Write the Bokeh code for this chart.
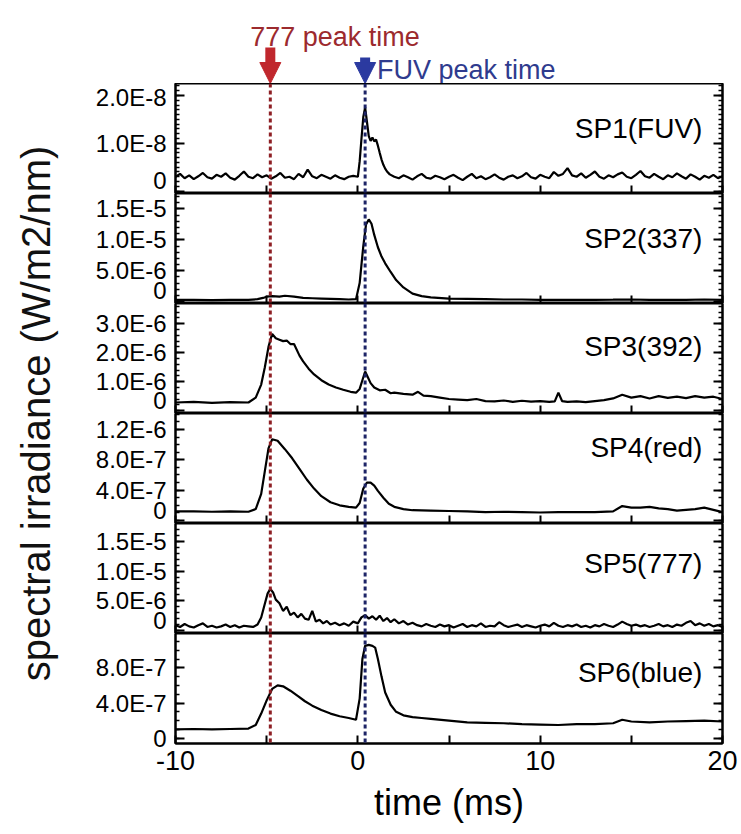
import numpy as np
from math import pi
from bokeh.plotting import figure
from bokeh.layouts import column, row
from bokeh.models import (Range1d, LinearAxis, SingleIntervalTicker, CustomJSTickFormatter,
                          Span, Label, Arrow, NormalHead)
from bokeh.embed import file_html
from bokeh.resources import INLINE

# ---------------- data ----------------
X_START, X_END = -10, 20
T777 = -4.8      # 777 peak time (ms)
TFUV = 0.4       # FUV peak time (ms)

# SP1 (FUV), units of 1e-8 W/m2/nm
sp1_t = np.concatenate([np.arange(-10, 0, 0.25),
                        [0.0, 0.1, 0.2, 0.3, 0.4, 0.5, 0.6, 0.7, 0.8, 0.9, 1.0, 1.1, 1.2, 1.3, 1.4, 1.5, 1.6, 1.75, 2.0],
                        np.arange(2.25, 20.01, 0.25)])
sp1_v = [0.30, 0.36, 0.27, 0.33, 0.25, 0.31, 0.38, 0.29, 0.26, 0.34,
         0.30, 0.37, 0.28, 0.24, 0.32, 0.41, 0.30, 0.27, 0.35, 0.29,
         0.33, 0.26, 0.31, 0.38, 0.28, 0.30, 0.25, 0.36, 0.29, 0.45,
         0.31, 0.27, 0.34, 0.30, 0.26, 0.33, 0.28, 0.25, 0.30, 0.32,
         0.30, 0.62, 1.10, 1.55, 1.75, 1.45, 1.15, 1.05, 1.12, 1.04, 1.08, 0.95, 0.80, 0.66, 0.55, 0.47, 0.41, 0.35, 0.30,
         0.27, 0.33, 0.29, 0.24, 0.31, 0.36, 0.28, 0.26, 0.32, 0.29, 0.25, 0.30,
         0.34, 0.28, 0.23, 0.30, 0.36, 0.27, 0.31, 0.25, 0.29, 0.35, 0.28, 0.24,
         0.30, 0.33, 0.27, 0.31, 0.38, 0.29, 0.26, 0.34, 0.30, 0.27, 0.40, 0.32,
         0.36, 0.48, 0.33, 0.30, 0.37, 0.28, 0.34, 0.41, 0.30, 0.26, 0.33, 0.29,
         0.35, 0.39, 0.30, 0.27, 0.34, 0.42, 0.31, 0.28, 0.36, 0.30, 0.25, 0.33,
         0.29, 0.37, 0.31, 0.26, 0.35, 0.30, 0.24, 0.32, 0.28, 0.34, 0.27, 0.31]

# SP2 (337), units of 1e-6
sp2_t = [-10, -9, -8, -7, -6, -5.5, -5.2, -5.0, -4.7, -4.3, -4.0, -3.5, -3.0, -2.5, -2.0, -1.5, -1.0, -0.5, -0.1,
         0.1, 0.3, 0.45, 0.6, 0.75, 0.9, 1.1, 1.3, 1.5, 1.8, 2.1, 2.5, 3.0, 3.5, 4, 5,
         6, 7, 8, 9, 10, 11, 12, 13, 14, 15, 16, 17, 18, 19, 20]
sp2_v = [0.3, 0.3, 0.25, 0.3, 0.3, 0.4, 0.6, 0.8, 0.9, 0.8, 0.95, 0.8, 0.6, 0.55, 0.5, 0.45, 0.4, 0.35, 0.4,
         3.0, 9.0, 12.5, 13.3, 12.6, 10.8, 8.8, 7.3, 6.2, 4.8, 3.5, 2.3, 1.3, 0.9, 0.7, 0.5,
         0.45, 0.4, 0.35, 0.35, 0.3, 0.3, 0.28, 0.3, 0.32, 0.35, 0.3, 0.28, 0.3, 0.35, 0.3]

# SP3 (392), units of 1e-6
sp3_t = [-10, -9, -8, -7, -6, -5.6, -5.3, -5.1, -4.9, -4.7, -4.5, -4.3, -4.1, -3.9, -3.7, -3.5, -3.2, -3.0, -2.7, -2.4,
         -2.0, -1.6, -1.2, -0.8, -0.4, -0.1, 0.1, 0.25, 0.4, 0.55, 0.7, 0.9, 1.2, 1.5, 1.8, 2.0, 2.5, 3.0, 3.3, 3.6,
         4.0, 4.5, 5.0, 5.5, 6, 6.5, 7, 7.5, 8, 8.5, 9, 9.5, 10, 10.5, 10.8, 11.0, 11.2, 11.5, 12, 12.5,
         13, 13.5, 14, 14.5, 15, 15.5, 16, 16.5, 17, 17.5, 18, 18.5, 19, 19.5, 20]
sp3_v = [0.28, 0.30, 0.27, 0.29, 0.28, 0.45, 0.9, 1.5, 2.2, 2.65, 2.5, 2.45, 2.4, 2.42, 2.3, 2.3, 1.9, 1.7, 1.45, 1.25,
         1.05, 0.9, 0.8, 0.72, 0.65, 0.62, 0.75, 1.05, 1.35, 1.15, 0.95, 0.8, 0.7, 0.72, 0.6, 0.62, 0.58, 0.55, 0.65, 0.52,
         0.5, 0.45, 0.4, 0.38, 0.36, 0.4, 0.33, 0.32, 0.35, 0.3, 0.34, 0.31, 0.33, 0.3, 0.32, 0.62, 0.33, 0.3, 0.32, 0.29,
         0.33, 0.36, 0.42, 0.55, 0.45, 0.5, 0.42, 0.5, 0.44, 0.48, 0.43, 0.5, 0.45, 0.48, 0.4]

# SP4 (red), units of 1e-7
sp4_t = [-10, -9, -8, -7, -6, -5.6, -5.3, -5.1, -4.9, -4.7, -4.4, -4.0, -3.6, -3.2, -2.8, -2.4, -2.0, -1.5, -1.0, -0.5,
         -0.1, 0.1, 0.3, 0.5, 0.7, 0.9, 1.1, 1.4, 1.7, 2.0, 2.5, 3, 4, 5, 6, 7, 8, 9, 10, 11,
         12, 13, 14, 14.5, 15, 15.5, 16, 16.5, 17, 17.5, 18, 18.5, 19, 19.5, 20]
sp4_v = [1.2, 1.2, 1.15, 1.2, 1.15, 1.5, 3.5, 6.5, 9.5, 10.7, 10.5, 9.4, 8.2, 6.8, 5.4, 4.2, 3.2, 2.4, 2.0, 1.8,
         1.7, 2.3, 4.2, 5.0, 5.0, 4.6, 3.9, 3.0, 2.2, 1.8, 1.5, 1.35, 1.3, 1.25, 1.2, 1.1, 1.15, 1.1, 1.05, 1.1,
         1.1, 1.1, 1.2, 1.9, 1.7, 1.7, 1.8, 1.6, 1.5, 1.3, 1.4, 1.5, 1.7, 1.4, 1.1]

# SP5 (777), units of 1e-6
sp5_t = np.concatenate([np.arange(-10, -5.5, 0.25),
                        [-5.5, -5.3, -5.1, -4.95, -4.8, -4.65, -4.5, -4.3, -4.1, -3.9, -3.7, -3.5, -3.3, -3.1, -2.9,
                         -2.7, -2.5, -2.3, -2.1, -1.9, -1.7, -1.5, -1.25, -1.0, -0.75, -0.5, -0.25, 0.0, 0.2, 0.4,
                         0.6, 0.8, 1.0, 1.2, 1.4, 1.6, 1.8, 2.0, 2.25, 2.5, 2.75, 3.0],
                        np.arange(3.25, 20.01, 0.25)])
sp5_v = [0.9, 0.6, 1.1, 0.7, 0.5, 0.9, 1.2, 0.6, 0.8, 0.5, 0.7, 1.0, 0.6, 0.9, 0.5, 0.8, 0.7, 0.6,
         1.0, 2.2, 4.5, 6.2, 7.0, 6.4, 5.2, 4.6, 3.3, 4.0, 2.6, 3.0, 2.2, 2.8, 2.0,
         1.8, 3.3, 1.5, 1.8, 1.2, 1.6, 1.0, 1.3, 0.9, 1.2, 0.8, 1.5, 1.2, 2.2, 2.6,
         2.0, 2.4, 1.8, 2.5, 1.6, 2.1, 1.4, 1.9, 1.2, 1.6, 1.0, 1.3,
         0.9, 0.7, 1.1, 0.8, 0.6, 1.0, 0.7, 0.9, 0.5, 0.8, 1.1, 0.6, 0.9, 0.7, 1.2, 0.6, 0.8,
         0.7, 1.4, 0.9, 0.6, 0.8, 1.0, 0.6, 0.9, 0.7, 0.5, 0.8, 1.0, 0.7, 1.3, 0.8, 0.6, 0.9,
         0.7, 1.0, 0.6, 0.8, 0.5, 0.9, 0.7, 1.1, 0.8, 0.6, 1.0, 1.5, 1.1, 0.8, 1.0, 0.7, 0.9,
         0.6, 0.8, 1.1, 0.7, 0.9, 0.6, 1.0, 0.8, 1.3, 1.6, 0.9, 1.2, 0.8, 1.1, 0.7, 0.9, 0.6]

# SP6 (blue), units of 1e-7
sp6_t = [-10, -9, -8, -7, -6, -5.6, -5.3, -5.0, -4.7, -4.4, -4.1, -3.7, -3.3, -2.9, -2.5, -2.0, -1.5, -1.0, -0.5, -0.1,
         0.1, 0.25, 0.4, 0.6, 0.8, 0.95, 1.1, 1.3, 1.5, 1.8, 2.1, 2.5, 3, 3.5, 4, 5, 6, 7, 8, 9,
         10, 11, 12, 13, 14, 14.5, 15, 16, 17, 18, 19, 20]
sp6_v = [1.0, 1.05, 1.0, 1.05, 1.1, 1.5, 2.8, 4.3, 5.6, 6.0, 5.9, 5.4, 4.8, 4.2, 3.7, 3.2, 2.8, 2.5, 2.3, 2.1,
         4.5, 9.0, 10.5, 10.6, 10.5, 10.3, 9.0, 7.0, 5.2, 3.8, 3.0, 2.6, 2.4, 2.3, 2.2, 2.0, 1.8, 1.75, 1.7, 1.6,
         1.55, 1.5, 1.6, 1.6, 1.7, 2.1, 1.9, 1.8, 1.9, 1.95, 2.0, 1.9]

names = ["SP1(FUV)", "SP2(337)", "SP3(392)", "SP4(red)", "SP5(777)", "SP6(blue)"]
units = [1e-8, 1e-6, 1e-6, 1e-7, 1e-6, 1e-7]
series_t = [sp1_t, sp2_t, sp3_t, sp4_t, sp5_t, sp6_t]
series_v = [sp1_v, sp2_v, sp3_v, sp4_v, sp5_v, sp6_v]
y_lims = [(-0.05e-8, 2.25e-8), (-0.3e-6, 17.5e-6), (-0.1e-6, 3.7e-6),
          (-0.04e-6, 1.41e-6), (-0.5e-6, 18.0e-6), (-0.06e-6, 1.19e-6)]
y_step = [1e-8, 5e-6, 1e-6, 4e-7, 5e-6, 4e-7]
y_minor = [10, 5, 5, 4, 5, 4]
label_pos = [0.59, 0.59, 0.61, 0.69, 0.64, 0.65]   # fraction of panel height from bottom

# ---------------- styling ----------------
FONT = "Liberation Sans"
RED_TXT = "#9c2a2e"
RED_ARR = "#c0272d"
BLUE_TXT = "#2f3b8e"
BLUE_ARR = "#2b3aa0"
RED_LINE = "#8e1f24"
BLUE_LINE = "#1d2466"

LEFT_W = 70
FRAME_W = 547
BORDER_L = 105
BORDER_R = 19
PANEL_H = 110

x_range = Range1d(X_START, X_END)

yfmt_code = """
if (Math.abs(tick) < 1e-25) { return '0'; }
const e = Math.floor(Math.log10(Math.abs(tick)) + 1e-9);
const m = tick / Math.pow(10, e);
return m.toFixed(1) + 'E' + e;
"""
xfmt_code = """
if (Math.abs(tick % 10) < 1e-9) { return tick.toFixed(0); }
return '';
"""
blank_code = "return '';"


def base_fig(height, y_range, bottom=0):
    p = figure(frame_width=FRAME_W, frame_height=height, x_range=x_range, y_range=y_range,
               output_backend="svg", toolbar_location=None,
               x_axis_location=None, y_axis_location=None,
               min_border_left=BORDER_L, min_border_right=BORDER_R,
               min_border_top=0, min_border_bottom=bottom,
               background_fill_color="white", border_fill_color="white")
    p.grid.visible = False
    return p


def hide_labels(ax):
    ax.formatter = CustomJSTickFormatter(code=blank_code)
    ax.major_label_text_font_size = "1px"
    ax.major_label_text_color = None
    ax.major_label_standoff = 0


# header with arrows
header = base_fig(83, Range1d(83, 0))
header.outline_line_color = None
header.add_layout(Arrow(end=NormalHead(size=21, fill_color=RED_ARR, line_color=RED_ARR),
                        x_start=T777, y_start=47, x_end=T777, y_end=83,
                        line_color=RED_ARR, line_width=10))
header.add_layout(Arrow(end=NormalHead(size=21, fill_color=BLUE_ARR, line_color=BLUE_ARR),
                        x_start=TFUV, y_start=57, x_end=TFUV, y_end=83,
                        line_color=BLUE_ARR, line_width=10))
header.add_layout(Label(x=-5.9, y=36, text="777 peak time", text_font=FONT, text_font_size="27px",
                        text_color=RED_TXT, text_align="left", text_baseline="alphabetic"))
header.add_layout(Label(x=1.05, y=69, text="FUV peak time", text_font=FONT, text_font_size="27px",
                        text_color=BLUE_TXT, text_align="left", text_baseline="alphabetic"))

panels = []
for i in range(6):
    lo, hi = y_lims[i]
    last = (i == 5)
    p = base_fig(PANEL_H, Range1d(lo, hi), bottom=(89 if last else 0))
    p.outline_line_color = "black"
    p.outline_line_width = 2

    yt = SingleIntervalTicker(interval=y_step[i], num_minor_ticks=y_minor[i])
    yl = LinearAxis(ticker=yt, formatter=CustomJSTickFormatter(code=yfmt_code),
                    major_tick_in=9, major_tick_out=0, minor_tick_in=4, minor_tick_out=0,
                    major_tick_line_width=2, minor_tick_line_width=1.5, axis_line_width=2,
                    major_label_text_font=FONT, major_label_text_font_size="24px",
                    major_label_text_color="black", major_label_standoff=9)
    p.add_layout(yl, "left")
    yr = LinearAxis(ticker=yt,
                    major_tick_in=9, major_tick_out=0, minor_tick_in=4, minor_tick_out=0,
                    major_tick_line_width=2, minor_tick_line_width=1.5, axis_line_width=2)
    hide_labels(yr)
    p.add_layout(yr, "right")

    xt = SingleIntervalTicker(interval=5, num_minor_ticks=0)
    xa = LinearAxis(ticker=xt, formatter=CustomJSTickFormatter(code=xfmt_code),
                    major_tick_in=8, major_tick_out=0, minor_tick_in=0, minor_tick_out=0,
                    major_tick_line_width=2, axis_line_width=2)
    if last:
        xa.major_label_text_font = FONT
        xa.major_label_text_font_size = "27px"
        xa.major_label_text_color = "black"
        xa.major_label_standoff = 7
        xa.axis_label = "time (ms)"
        xa.axis_label_text_font = FONT
        xa.axis_label_text_font_size = "36px"
        xa.axis_label_text_font_style = "normal"
        xa.axis_label_text_color = "black"
        xa.axis_label_standoff = 9
    else:
        hide_labels(xa)
    p.add_layout(xa, "below")

    p.add_layout(Span(location=T777, dimension="height", line_color=RED_LINE,
                      line_width=3, line_dash="4 3"))
    p.add_layout(Span(location=TFUV, dimension="height", line_color=BLUE_LINE,
                      line_width=3, line_dash="4 3"))

    vals = np.asarray(series_v[i], dtype=float) * units[i]
    p.line(np.asarray(series_t[i], dtype=float), vals, line_color="black", line_width=2.2)

    p.add_layout(Label(x=18.9, y=lo + label_pos[i] * (hi - lo), text=names[i], text_font=FONT,
                       text_font_size="28px", text_color="black",
                       text_align="right", text_baseline="middle"))
    panels.append(p)

# left figure holding the shared y-axis title
side = figure(frame_width=LEFT_W, frame_height=834, x_range=Range1d(0, LEFT_W), y_range=Range1d(834, 0),
              output_backend="svg", toolbar_location=None, x_axis_location=None, y_axis_location=None,
              min_border_left=0, min_border_right=0, min_border_top=0, min_border_bottom=0,
              outline_line_color=None, background_fill_color="white", border_fill_color="white")
side.grid.visible = False
side.add_layout(Label(x=35, y=413, text="spectral irradiance (W/m2/nm)", angle=pi / 2,
                      text_font=FONT, text_font_size="40px", text_color="#111111",
                      text_align="center", text_baseline="middle"))

layout = row(side, column([header] + panels, spacing=0), spacing=0)

open("out.html", "w").write(file_html(layout, INLINE))
